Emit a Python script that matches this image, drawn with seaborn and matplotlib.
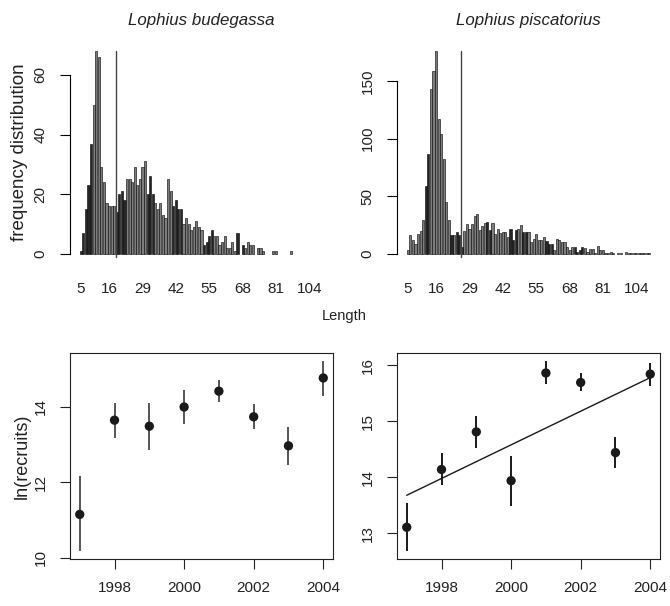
import numpy as np
import pandas as pd
import seaborn as sns
import matplotlib
matplotlib.use('Agg')
import matplotlib.pyplot as plt

# length classes shared by both species (bar categories)
lengths = list(range(5, 82)) + [82, 83, 84, 85, 86, 87, 88, 90, 92, 94, 97, 100,
                                104, 105, 106, 108, 110, 113]
length_labels = [5, 16, 29, 42, 55, 68, 81, 104]

budegassa_freq = [1, 7, 15, 23, 37, 50, 68, 66, 29, 24,
                  17, 16, 16, 16, 14, 20, 21, 18, 25, 25,
                  24, 29, 23, 25, 29, 31, 20, 26, 20, 17,
                  15, 17, 13, 12, 25, 21, 16, 18, 15, 15,
                  10, 12, 10, 8, 9, 11, 9, 8, 3, 4,
                  6, 8, 6, 6, 3, 4, 6, 2, 2, 4,
                  1, 7, 0, 3, 2, 4, 3, 3, 0, 2,
                  2, 1, 0, 0, 0, 1, 1, 0, 0, 0,
                  0, 0, 1, 0, 0, 0, 0, 0, 0, 0,
                  0, 0, 0, 0, 0]
piscatorius_freq = [3, 16, 12, 9, 17, 20, 29, 59, 87, 143,
                    159, 176, 117, 104, 82, 45, 29, 16, 16, 19,
                    16, 6, 20, 26, 22, 26, 33, 35, 21, 24,
                    27, 28, 21, 27, 17, 22, 18, 19, 19, 15,
                    22, 12, 21, 22, 25, 19, 19, 19, 10, 13,
                    17, 12, 12, 15, 11, 9, 9, 3, 13, 12,
                    10, 10, 6, 3, 6, 6, 2, 3, 6, 5,
                    2, 4, 4, 1, 7, 3, 3, 1, 1, 2,
                    1, 0, 1, 1, 0, 2, 1, 1, 1, 1,
                    1, 1, 1, 1, 1]
budegassa_dark = [5, 6, 7, 8, 9, 19, 20, 21, 22, 31, 32, 33, 41, 42, 43, 44,
                  53, 54, 55, 56, 66, 67, 68]
piscatorius_dark = [12, 13, 22, 24, 25, 26, 36, 37, 45, 46, 47, 50, 51,
                    59, 60, 61, 70, 71, 72, 73]
budegassa_cut = 18.7
piscatorius_cut = 25.6
budegassa_yticks = [0, 20, 40, 60]
piscatorius_yticks = [0, 50, 100, 150]

years = [1997, 1998, 1999, 2000, 2001, 2002, 2003, 2004]
budegassa_rec = [11.15, 13.65, 13.49, 14.00, 14.42, 13.74, 12.97, 14.77]
budegassa_lo = [10.17, 13.19, 12.85, 13.54, 14.12, 13.42, 12.46, 14.30]
budegassa_hi = [12.18, 14.11, 14.11, 14.45, 14.71, 14.07, 13.47, 15.23]
piscatorius_rec = [13.11, 14.14, 14.81, 13.94, 15.86, 15.69, 14.44, 15.84]
piscatorius_lo = [12.68, 13.86, 14.53, 13.49, 15.66, 15.54, 14.16, 15.63]
piscatorius_hi = [13.55, 14.43, 15.09, 14.38, 16.08, 15.86, 14.72, 16.03]
year_ticks = [1998, 2000, 2002, 2004]
budegassa_rticks = [10, 12, 14]
piscatorius_rticks = [13, 14, 15, 16]

sns.set_style('white')
plt.rcParams['font.family'] = ['Liberation Sans', 'DejaVu Sans']
plt.rcParams['font.size'] = 11

W, H = 670, 606
fig = plt.figure(figsize=(W / 100, H / 100), dpi=100)
TXT = '#222222'


def px_axes(left, top, right, bottom):
    return fig.add_axes([left / W, 1 - bottom / H, (right - left) / W, (bottom - top) / H])


def length_hist(ax, freq, dark, cut, yticks):
    df = pd.DataFrame({'length': lengths, 'freq': freq})
    df['shade'] = np.where(df['length'].isin(dark), 'dark', 'light')
    sns.barplot(data=df, x='length', y='freq', hue='shade',
                palette={'dark': '#262626', 'light': '#7d7d7d'},
                dodge=False, width=1 / 1.2, saturation=1, edgecolor='#111111',
                linewidth=0.45, errorbar=None, legend=False, ax=ax)
    for p in ax.patches:
        if p.get_height() == 0:
            p.set_linewidth(0)
    n = len(lengths)
    half = 0.5 / 1.2
    span = (n - 1) + 2 * half
    ax.set_xlim(-half - 0.04 * span, n - 1 + half + 0.04 * span)
    top = max(freq)
    ax.set_ylim(-0.04 * top, 1.04 * top)
    pos = np.interp(cut, lengths, np.arange(n))
    ax.plot([pos, pos], [-0.015 * top, top], color='#444444', lw=1)
    ax.set_xticks([lengths.index(v) for v in length_labels])
    ax.set_xticklabels([str(v) for v in length_labels])
    ax.set_yticks(yticks)
    for s in ['top', 'right', 'bottom']:
        ax.spines[s].set_visible(False)
    ax.spines['left'].set_bounds(yticks[0], yticks[-1])
    ax.spines['left'].set_linewidth(0.8)
    ax.spines['left'].set_color('black')
    ax.tick_params(axis='x', length=0, pad=14.5, labelsize=11, colors=TXT)
    ax.tick_params(axis='y', length=7.2, width=0.8, pad=9, labelsize=11,
                   labelrotation=90, left=True, color='black', labelcolor=TXT)
    for lab in ax.get_yticklabels():
        lab.set_va('center')
    ax.set_xlabel('')
    ax.set_ylabel('')


def recruit_panel(ax, rec, lo, hi, yticks, bar_color, fit=False):
    ax.vlines(years, lo, hi, color=bar_color, lw=1.4)
    sns.scatterplot(x=years, y=rec, color='#1a1a1a', s=45, edgecolor='none', ax=ax, zorder=3)
    if fit:
        sns.regplot(x=years, y=rec, scatter=False, ci=None, truncate=True,
                    color='#1a1a1a', line_kws={'lw': 1}, ax=ax)
    xr = years[-1] - years[0]
    ax.set_xlim(years[0] - 0.04 * xr, years[-1] + 0.04 * xr)
    ymin, ymax = min(lo), max(hi)
    yr = ymax - ymin
    ax.set_ylim(ymin - 0.04 * yr, ymax + 0.04 * yr)
    ax.set_xticks(year_ticks)
    ax.set_yticks(yticks)
    for s in ax.spines.values():
        s.set_visible(True)
        s.set_linewidth(0.8)
        s.set_color('#222222')
    ax.tick_params(axis='both', length=7.2, width=0.8, pad=9, labelsize=11,
                   bottom=True, left=True, color='#222222', labelcolor=TXT)
    ax.tick_params(axis='y', labelrotation=90)
    for lab in ax.get_yticklabels():
        lab.set_va('center')
    ax.set_xlabel('')
    ax.set_ylabel('')


ax1 = px_axes(70, 43, 333, 262)
length_hist(ax1, budegassa_freq, budegassa_dark, budegassa_cut, budegassa_yticks)
ax2 = px_axes(397, 43, 660, 262)
length_hist(ax2, piscatorius_freq, piscatorius_dark, piscatorius_cut, piscatorius_yticks)

ax3 = px_axes(70, 353, 333, 559)
recruit_panel(ax3, budegassa_rec, budegassa_lo, budegassa_hi, budegassa_rticks, '#555555')
ax4 = px_axes(397, 353, 660, 559)
recruit_panel(ax4, piscatorius_rec, piscatorius_lo, piscatorius_hi, piscatorius_rticks,
              '#1a1a1a', fit=True)

fig.text(201.5 / W, 1 - 25 / H, 'Lophius budegassa', style='italic', ha='center',
         va='baseline', fontsize=12.2, color=TXT)
fig.text(528.5 / W, 1 - 25 / H, 'Lophius piscatorius', style='italic', ha='center',
         va='baseline', fontsize=12.2, color=TXT)
fig.text(20 / W, 1 - 152 / H, 'frequency distribution', rotation=90, ha='center',
         va='center', fontsize=13.5, color=TXT)
fig.text(22 / W, 1 - 456 / H, 'ln(recruits)', rotation=90, ha='center',
         va='center', fontsize=13, color=TXT)
fig.text(344 / W, 1 - 320 / H, 'Length', ha='center', va='baseline',
         fontsize=10.5, color=TXT)

fig.savefig('out.png', dpi=100, facecolor='white')
